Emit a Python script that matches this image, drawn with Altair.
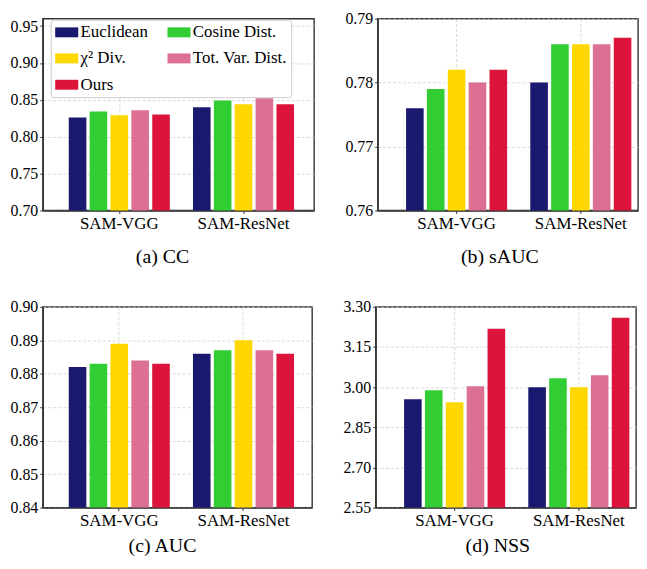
import altair as alt
import pandas as pd

groups = ["SAM-VGG", "SAM-ResNet"]
methods = ["Euclidean", "Cosine Dist.", "χ² Div.", "Tot. Var. Dist.", "Ours"]
colors = ["#191970", "#32CD32", "#FFD700", "#DB7093", "#DC143C"]
# order of the legend entries (filled column by column)
legend_order = ["Euclidean", "χ² Div.", "Ours", "Cosine Dist.", "Tot. Var. Dist."]

cc_vgg = [0.826, 0.834, 0.829, 0.836, 0.830]
cc_resnet = [0.840, 0.849, 0.844, 0.852, 0.844]
sauc_vgg = [0.776, 0.779, 0.782, 0.780, 0.782]
sauc_resnet = [0.780, 0.786, 0.786, 0.786, 0.787]
auc_vgg = [0.882, 0.883, 0.889, 0.884, 0.883]
auc_resnet = [0.886, 0.887, 0.890, 0.887, 0.886]
nss_vgg = [2.955, 2.988, 2.944, 3.003, 3.218]
nss_resnet = [3.000, 3.033, 3.000, 3.044, 3.259]

cc_ticks = [0.70, 0.75, 0.80, 0.85, 0.90, 0.95]
sauc_ticks = [0.76, 0.77, 0.78, 0.79]
auc_ticks = [0.84, 0.85, 0.86, 0.87, 0.88, 0.89, 0.90]
nss_ticks = [2.55, 2.70, 2.85, 3.00, 3.15, 3.30]

captions = ["(a) CC", "(b) sAUC", "(c) AUC", "(d) NSS"]

FONT = "Liberation Serif"
color_of = dict(zip(methods, colors))


def panel(vgg, resnet, domain, ticks, caption, w, h, po, align, dx, show_legend, toff):
    df = pd.DataFrame({
        "group": [groups[0]] * len(methods) + [groups[1]] * len(methods),
        "method": methods * 2,
        "value": vgg + resnet,
    })
    if show_legend:
        legend = alt.Legend(
            title=None, orient="none", legendX=8, legendY=1, columns=2,
            symbolType="M-1,-0.625H1.9V0.625H-1Z", symbolSize=256,
            symbolStrokeWidth=0, symbolOpacity=1,
            labelFont=FONT, labelFontSize=17, labelColor="black",
            labelOffset=9, padding=4, rowPadding=8.5, columnPadding=19,
            fillColor="white", strokeColor="#cccccc", cornerRadius=3,
        )
    else:
        legend = None
    return alt.Chart(df).mark_bar(clip=True).encode(
        x=alt.X("group:N", sort=groups,
                scale=alt.Scale(paddingInner=0.1864, paddingOuter=po, align=align),
                axis=alt.Axis(title=None, labelAngle=0, bandPosition=0.5, grid=True,
                              labelFontSize=17)),
        xOffset=alt.XOffset("method:N", sort=methods,
                            scale=alt.Scale(paddingInner=0.157, paddingOuter=0)),
        y=alt.Y("value:Q", scale=alt.Scale(domain=domain, zero=False, nice=False),
                axis=alt.Axis(title=None, values=ticks, format=".2f", grid=True)),
        color=alt.Color("method:N",
                        scale=alt.Scale(domain=legend_order,
                                        range=[color_of[m] for m in legend_order]),
                        legend=legend),
    ).properties(
        width=w, height=h,
        title=alt.TitleParams(caption, orient="bottom", font=FONT, fontSize=20,
                              fontWeight="normal", color="black", offset=toff,
                              anchor="middle", dx=dx),
    )


pa = panel(cc_vgg, cc_resnet, [0.70, 0.96], cc_ticks, captions[0], 273, 193, 0.1852, 0.565, -16, True, 16)
pb = panel(sauc_vgg, sauc_resnet, [0.76, 0.79], sauc_ticks, captions[1], 262, 193, 0.1412, 0.81, -8, False, 16)
pc = panel(auc_vgg, auc_resnet, [0.84, 0.90], auc_ticks, captions[2], 271, 202, 0.1772, 0.59, -15, False, 8)
pd_ = panel(nss_vgg, nss_resnet, [2.55, 3.30], nss_ticks, captions[3], 262, 202, 0.1412, 0.81, -8, False, 8)

res = dict(x="independent", y="independent", color="independent", xOffset="independent")
row1 = alt.hconcat(pa, pb, spacing=29).resolve_scale(**res)
row2 = alt.hconcat(pc, pd_, spacing=29).resolve_scale(**res)

chart = alt.vconcat(row1, row2, spacing=30).resolve_scale(**res).properties(
    padding={"left": 1, "top": 0, "right": 0, "bottom": 0},
    background="white",
).configure_view(
    stroke="#333333", strokeWidth=1.4,
).configure_axis(
    labelFont=FONT, labelFontSize=16, labelColor="black", labelPadding=2,
    tickColor="#333333", tickSize=3, tickWidth=1,
    domainColor="#333333", domainWidth=1.4,
    gridColor="#cfcfcf", gridDash=[3, 2], gridWidth=0.8,
)

chart.save("out.html", embed_options={"renderer": "svg", "actions": False})
